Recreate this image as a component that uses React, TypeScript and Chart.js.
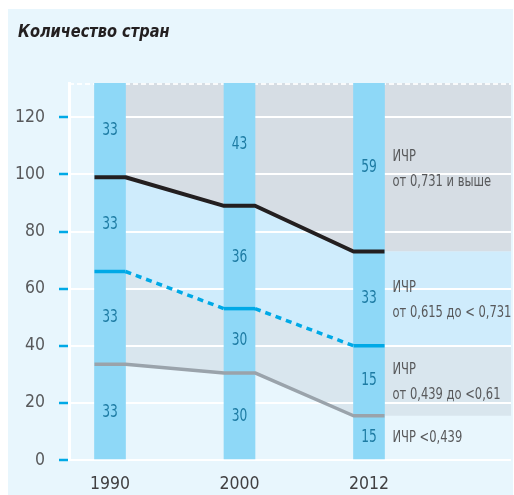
import React, { useEffect, useRef } from 'react';
import { Chart, registerables } from 'chart.js';

Chart.register(...registerables);

// ---------- data ----------
const TITLE = 'Количество стран';
const YEARS = ['1990', '2000', '2012'];
const HIGH_LINE = [99, 89, 73];
const MID_LINE = [66, 53, 40];
const LOW_LINE = [33.5, 30.5, 15.5];
const COUNT_HIGH = [33, 43, 59];
const COUNT_UPPER_MID = [33, 36, 33];
const COUNT_LOWER_MID = [33, 30, 15];
const COUNT_LOW = [33, 30, 15];
const BAND_LABELS = [
  ['ИЧР', 'от 0,731 и выше'],
  ['ИЧР', 'от 0,615 до < 0,731'],
  ['ИЧР', 'от 0,439 до <0,61'],
  ['ИЧР <0,439'],
];
const Y_TICKS = [0, 20, 40, 60, 80, 100, 120];
const Y_MAX = 132;

// ---------- styles ----------
const FONT = "'Liberation Sans Narrow', 'DejaVu Sans Condensed', 'Noto Sans', sans-serif";
const BAR_PX = 31;
const STEP_PX = 129.5;
const HW = BAR_PX / 2 / STEP_PX;
const X_MIN = -41 / STEP_PX;
const X_MAX = (442 - 41) / STEP_PX;

const pathPoints = (vals: number[]) =>
  vals.flatMap((v, i) => [
    { x: i - HW, y: v },
    { x: i + HW, y: v },
  ]);
const bandPoints = (vals: number[]) => [...pathPoints(vals), { x: X_MAX, y: vals[vals.length - 1] }];

const drawText = (ctx: any, text: string, x: number, y: number, sx: number) => {
  ctx.save();
  ctx.translate(x, y);
  ctx.scale(sx, 1);
  ctx.fillText(text, 0, 0);
  ctx.restore();
};

const decorPlugin = {
  id: 'decor',
  beforeDatasetsDraw(chart: any) {
    const { ctx, chartArea } = chart;
    ctx.save();
    ctx.strokeStyle = 'rgba(255,255,255,0.85)';
    ctx.lineWidth = 2;
    ctx.setLineDash([5, 3]);
    ctx.beginPath();
    ctx.moveTo(chartArea.left, chartArea.top + 1);
    ctx.lineTo(chartArea.right, chartArea.top + 1);
    ctx.stroke();
    ctx.restore();
  },
  afterDatasetsDraw(chart: any) {
    const { ctx } = chart;
    const x = chart.scales.x;
    const y = chart.scales.y;
    ctx.save();
    ctx.textBaseline = 'middle';
    ctx.textAlign = 'center';
    ctx.fillStyle = '#1d7ba3';
    ctx.font = `17px ${FONT}`;
    YEARS.forEach((_, i) => {
      const bounds = [0, LOW_LINE[i], MID_LINE[i], HIGH_LINE[i], Y_MAX];
      const counts = [COUNT_LOW[i], COUNT_LOWER_MID[i], COUNT_UPPER_MID[i], COUNT_HIGH[i]];
      counts.forEach((c, k) => {
        const ym = y.getPixelForValue((bounds[k] + bounds[k + 1]) / 2);
        drawText(ctx, String(c), x.getPixelForValue(i), ym, 0.8);
      });
    });
    const last = YEARS.length - 1;
    const bounds = [0, LOW_LINE[last], MID_LINE[last], HIGH_LINE[last], Y_MAX];
    ctx.textAlign = 'left';
    ctx.fillStyle = '#58595b';
    ctx.font = `16px ${FONT}`;
    const tx = x.getPixelForValue(last + HW) + 8;
    for (let k = 0; k < 4; k++) {
      const lines = BAND_LABELS[3 - k];
      const ym = y.getPixelForValue((bounds[k] + bounds[k + 1]) / 2);
      if (lines.length === 1) {
        drawText(ctx, lines[0], tx, ym, 0.8);
      } else {
        drawText(ctx, lines[0], tx, ym - 10.5, 0.8);
        drawText(ctx, lines[1], tx, ym + 14.5, 0.8);
      }
    }
    ctx.restore();
  },
  afterDraw(chart: any) {
    const { ctx } = chart;
    ctx.save();
    ctx.fillStyle = '#231f20';
    ctx.font = `italic bold 18px ${FONT}`;
    ctx.textAlign = 'left';
    ctx.textBaseline = 'middle';
    drawText(ctx, TITLE, 10, 23, 0.9);
    ctx.restore();
  },
};

export default function App() {
  const ref = useRef<HTMLCanvasElement>(null);

  useEffect(() => {
    if (!ref.current) return;
    const chart = new Chart(ref.current, {
      type: 'bar',
      data: {
        datasets: [
          {
            type: 'line',
            data: bandPoints(LOW_LINE),
            borderColor: 'transparent',
            borderWidth: 0,
            pointRadius: 0,
            backgroundColor: '#d9e6ee',
            fill: '+1',
            order: 3,
          },
          {
            type: 'line',
            data: bandPoints(MID_LINE),
            borderColor: 'transparent',
            borderWidth: 0,
            pointRadius: 0,
            backgroundColor: '#cfecfc',
            fill: '+1',
            order: 3,
          },
          {
            type: 'line',
            data: bandPoints(HIGH_LINE),
            borderColor: 'transparent',
            borderWidth: 0,
            pointRadius: 0,
            backgroundColor: '#d6dde4',
            fill: 'end',
            order: 3,
          },
          {
            type: 'bar',
            data: YEARS.map((_, i) => ({ x: i, y: [0, Y_MAX] })),
            backgroundColor: '#8ed8f7',
            barThickness: BAR_PX,
            grouped: false,
            order: 2,
          },
          {
            type: 'line',
            data: pathPoints(HIGH_LINE),
            borderColor: '#231f20',
            borderWidth: 4,
            pointRadius: 0,
            fill: false,
            borderCapStyle: 'butt',
            borderJoinStyle: 'bevel',
            order: 0,
          },
          {
            type: 'line',
            data: pathPoints(MID_LINE),
            borderColor: '#00a9e6',
            borderWidth: 3.5,
            pointRadius: 0,
            fill: false,
            borderCapStyle: 'butt',
            borderJoinStyle: 'bevel',
            segment: {
              borderDash: (c: any) => (c.p0DataIndex % 2 === 1 ? [6, 5] : []),
            },
            order: 0,
          },
          {
            type: 'line',
            data: pathPoints(LOW_LINE),
            borderColor: '#9aa3ab',
            borderWidth: 3.5,
            pointRadius: 0,
            fill: false,
            borderCapStyle: 'butt',
            borderJoinStyle: 'bevel',
            order: 0,
          },
        ] as any,
      },
      options: {
        responsive: false,
        animation: false,
        layout: { padding: { top: 74, right: 2, left: 0, bottom: 0 } },
        plugins: {
          legend: { display: false },
          tooltip: { enabled: false },
          filler: { drawTime: 'beforeDraw' } as any,
        },
        scales: {
          x: {
            type: 'linear',
            offset: false,
            min: X_MIN,
            max: X_MAX,
            afterBuildTicks: (s: any) => {
              s.ticks = YEARS.map((_, i) => ({ value: i }));
            },
            afterFit: (s: any) => {
              s.height = 35;
            },
            grid: { display: false, offset: false },
            border: { display: false },
            ticks: {
              callback: (v: any) => YEARS[v] ?? '',
              padding: 6,
              maxRotation: 0,
              autoSkip: false,
              color: '#414042',
              font: { size: 17.5, family: FONT },
            },
          },
          y: {
            type: 'linear',
            min: 0,
            max: Y_MAX,
            afterBuildTicks: (s: any) => {
              s.ticks = Y_TICKS.map((v) => ({ value: v }));
            },
            afterFit: (s: any) => {
              s.width = 61;
            },
            grid: {
              color: '#ffffff',
              lineWidth: 2,
              drawTicks: true,
              tickColor: '#00a9e6',
              tickLength: 10,
              tickWidth: 2.5,
            },
            border: { display: true, color: '#ffffff', width: 3 },
            ticks: {
              padding: 14,
              color: '#58595b',
              font: { size: 17.5, family: FONT },
            },
          },
        } as any,
      },
      plugins: [decorPlugin],
    });
    return () => chart.destroy();
  }, []);

  return (
    <div
      style={{
        position: 'absolute',
        left: 8,
        top: 9,
        width: 505,
        height: 486,
        background: '#e8f6fd',
      }}
    >
      <canvas ref={ref} width={505} height={486} style={{ display: 'block' }} />
    </div>
  );
}
